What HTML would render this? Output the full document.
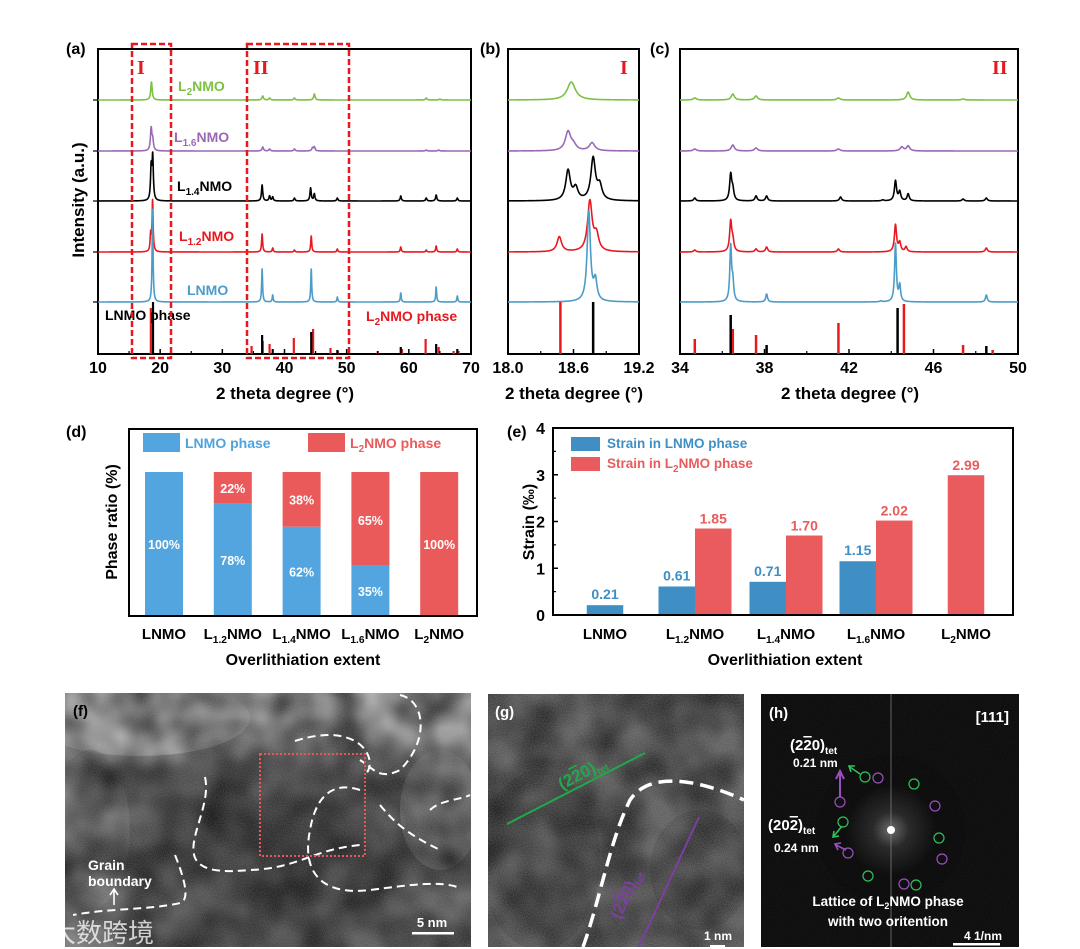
<!DOCTYPE html>
<html><head><meta charset="utf-8"><style>
html,body{margin:0;padding:0;background:#fff;}
svg{display:block;font-family:"Liberation Sans","Noto Sans CJK SC",sans-serif;}
.b{font-weight:bold;}
</style></head><body>
<svg id="fig" width="1080" height="949" viewBox="0 0 1080 949" xmlns="http://www.w3.org/2000/svg">
<defs>
<filter id="noise" x="0" y="0" width="100%" height="100%"><feTurbulence type="fractalNoise" baseFrequency="0.9" numOctaves="2" seed="3"/><feColorMatrix type="matrix" values="0 0 0 0 0.5  0 0 0 0 0.5  0 0 0 0 0.5  0 0 0 0.55 0"/></filter>
<filter id="blob" x="0" y="0" width="100%" height="100%"><feTurbulence type="fractalNoise" baseFrequency="0.025" numOctaves="2" seed="7"/><feColorMatrix type="matrix" values="0 0 0 0 0  0 0 0 0 0  0 0 0 0 0  1.4 0 0 0 -0.35"/></filter>
<radialGradient id="fg" cx="0.55" cy="0.6" r="0.6"><stop offset="0" stop-color="#333"/><stop offset="0.6" stop-color="#4e4e4e"/><stop offset="1" stop-color="#7a7a7a"/></radialGradient>
<linearGradient id="ftop" x1="0" y1="0" x2="0" y2="1"><stop offset="0" stop-color="#b5b5b5"/><stop offset="1" stop-color="#b5b5b5" stop-opacity="0"/></linearGradient>
<radialGradient id="hg" cx="0.5" cy="0.5" r="0.3"><stop offset="0" stop-color="#666"/><stop offset="0.4" stop-color="#222"/><stop offset="1" stop-color="#050505"/></radialGradient>
<clipPath id="cf"><rect x="65" y="693" width="406" height="254"/></clipPath>
<clipPath id="cg"><rect x="488" y="694" width="256" height="253"/></clipPath>
<clipPath id="chh"><rect x="761" y="694" width="258" height="253"/></clipPath>
</defs>

<text x="66" y="54" class="b" font-size="16">(a)</text>
<text x="480" y="54" class="b" font-size="16">(b)</text>
<text x="650" y="54" class="b" font-size="16">(c)</text>
<text x="66" y="437" class="b" font-size="16">(d)</text>
<text x="507" y="437" class="b" font-size="16">(e)</text>

<g id="ga"></g>
<g id="gb"></g>
<g id="gc"></g>
<g id="gd"></g>
<g id="ge"></g>

<text x="285" y="399" text-anchor="middle" class="b" font-size="17">2 theta degree (°)</text>
<text transform="translate(84,200) rotate(-90)" text-anchor="middle" class="b" font-size="17">Intensity (a.u.)</text>
<text x="178" y="91" class="b" font-size="14" fill="#7cc142">L<tspan font-size="10" dy="4">2</tspan><tspan dy="-4">NMO</tspan></text>
<text x="174" y="142" class="b" font-size="14" fill="#9a69b3">L<tspan font-size="10" dy="4">1.6</tspan><tspan dy="-4">NMO</tspan></text>
<text x="177" y="191" class="b" font-size="14" fill="#000">L<tspan font-size="10" dy="4">1.4</tspan><tspan dy="-4">NMO</tspan></text>
<text x="179" y="241" class="b" font-size="14" fill="#e8191e">L<tspan font-size="10" dy="4">1.2</tspan><tspan dy="-4">NMO</tspan></text>
<text x="187" y="295" class="b" font-size="14" fill="#4b9cc8">LNMO</text>
<text x="105" y="320" class="b" font-size="14" fill="#000">LNMO phase</text>
<text x="366" y="321" class="b" font-size="14" fill="#e8191e">L<tspan font-size="10" dy="4">2</tspan><tspan dy="-4">NMO phase</tspan></text>
<rect x="132" y="44" width="39" height="314" fill="none" stroke="#e8191e" stroke-width="2.5" stroke-dasharray="6,3"/>
<rect x="247" y="44" width="102" height="314" fill="none" stroke="#e8191e" stroke-width="2.5" stroke-dasharray="6,3"/>
<text x="137" y="74" font-family="Liberation Serif,serif" class="b" font-size="20" fill="#e8191e">I</text>
<text x="253" y="74" font-family="Liberation Serif,serif" class="b" font-size="20" fill="#e8191e">II</text>
<text x="574" y="399" text-anchor="middle" class="b" font-size="17">2 theta degree (°)</text>
<text x="620" y="74" font-family="Liberation Serif,serif" class="b" font-size="20" fill="#e8191e">I</text>
<text x="850" y="399" text-anchor="middle" class="b" font-size="17">2 theta degree (°)</text>
<text x="992" y="74" font-family="Liberation Serif,serif" class="b" font-size="20" fill="#e8191e">II</text>

<text x="303" y="665" text-anchor="middle" class="b" font-size="16">Overlithiation extent</text>
<text transform="translate(117,522) rotate(-90)" text-anchor="middle" class="b" font-size="16">Phase ratio (%)</text>
<rect x="143" y="433" width="37" height="19" fill="#52a5de"/>
<text x="185" y="448" class="b" font-size="14" fill="#4ea3dc">LNMO phase</text>
<rect x="308" y="433" width="37" height="19" fill="#eb5a5b"/>
<text x="350" y="448" class="b" font-size="14" fill="#eb5a5b">L<tspan font-size="10" dy="4">2</tspan><tspan dy="-4">NMO phase</tspan></text>

<text x="785" y="665" text-anchor="middle" class="b" font-size="16">Overlithiation extent</text>
<text transform="translate(534,522) rotate(-90)" text-anchor="middle" class="b" font-size="16">Strain (‰)</text>
<rect x="571" y="437" width="29" height="14" fill="#3f8fc4"/>
<text x="607" y="448" class="b" font-size="13.5" fill="#3f8fc4">Strain in LNMO phase</text>
<rect x="571" y="457" width="29" height="14" fill="#e95b5c"/>
<text x="607" y="468" class="b" font-size="13.5" fill="#e95b5c">Strain in L<tspan font-size="10" dy="4">2</tspan><tspan dy="-4">NMO phase</tspan></text>

<g clip-path="url(#cf)">
<rect x="65" y="693" width="406" height="254" fill="url(#fg)"/>
<rect x="65" y="693" width="406" height="90" fill="url(#ftop)"/>
<ellipse cx="140" cy="718" rx="110" ry="38" fill="#c0c0c0" opacity="0.6"/>
<ellipse cx="440" cy="810" rx="40" ry="60" fill="#999" opacity="0.5"/>
<ellipse cx="90" cy="830" rx="40" ry="80" fill="#777" opacity="0.5"/>
<rect x="65" y="693" width="406" height="254" filter="url(#blob)"/>
<rect x="65" y="693" width="406" height="254" filter="url(#noise)" opacity="0.6"/>
<path d="M205,777 C215,820 150,880 250,870 C300,868 310,850 360,845" fill="none" stroke="#fff" stroke-width="2" stroke-dasharray="8,5"/>
<path d="M295,741 C360,720 380,760 365,775 M400,695 C425,700 430,740 400,770 C380,780 375,770 360,760" fill="none" stroke="#fff" stroke-width="2" stroke-dasharray="8,5"/>
<path d="M360,790 C330,780 315,800 310,830 C300,880 330,895 370,890 C410,885 440,880 460,888 M380,805 C400,830 420,840 440,850 M430,810 C440,800 460,800 470,795" fill="none" stroke="#fff" stroke-width="2" stroke-dasharray="8,5"/>
<path d="M175,855 C185,880 190,900 180,903 C150,910 110,908 73,915" fill="none" stroke="#fff" stroke-width="2" stroke-dasharray="8,5"/>
<rect x="260" y="754" width="105" height="102" fill="none" stroke="#e05a5a" stroke-width="2" stroke-dasharray="2,2"/>
</g>
<text x="73" y="716" class="b" font-size="15" fill="#000">(f)</text>
<text x="88" y="870" class="b" font-size="14" fill="#fff">Grain</text>
<text x="88" y="886" class="b" font-size="14" fill="#fff">boundary</text>
<path d="M114,905 L114,890 M110,895 L114,889 L118,895" stroke="#fff" stroke-width="1.6" fill="none"/>
<text x="432" y="927" text-anchor="middle" class="b" font-size="13" fill="#fff">5 nm</text>
<rect x="412" y="932" width="42" height="2.5" fill="#fff"/>
<text x="50" y="942" font-size="26" fill="#fff" opacity="0.75">大数跨境</text>

<g clip-path="url(#cg)">
<rect x="488" y="694" width="256" height="253" fill="#565656"/>
<ellipse cx="540" cy="860" rx="60" ry="90" fill="#444" opacity="0.7"/>
<ellipse cx="700" cy="870" rx="50" ry="60" fill="#424242" opacity="0.6"/>
<rect x="488" y="694" width="256" height="253" filter="url(#blob)"/>
<rect x="488" y="694" width="256" height="253" filter="url(#noise)" opacity="0.7"/>
<path d="M583,947 C600,900 610,840 630,800 C650,770 700,780 744,800" fill="none" stroke="#fff" stroke-width="3.5" stroke-dasharray="14,7"/>
<line x1="507" y1="824" x2="645" y2="753" stroke="#21a84a" stroke-width="2"/>
<line x1="699" y1="817" x2="636" y2="953" stroke="#7b3fa0" stroke-width="2"/>
</g>
<text x="495" y="717" class="b" font-size="15" fill="#fff">(g)</text>
<text transform="translate(562,790) rotate(-28)" class="b" font-size="17" fill="#21a84a">(2<tspan text-decoration="overline">2</tspan>0)<tspan font-size="10" dy="4">tet</tspan></text>
<text transform="translate(620,920) rotate(-65)" class="b" font-size="17" fill="#7b3fa0">(2<tspan text-decoration="overline">2</tspan>0)<tspan font-size="10" dy="4">tet</tspan></text>
<text x="718" y="940" text-anchor="middle" class="b" font-size="12" fill="#fff">1 nm</text>
<rect x="710" y="945" width="15" height="2.5" fill="#fff"/>

<g clip-path="url(#chh)">
<rect x="761" y="694" width="258" height="253" fill="#070707"/>
<circle cx="891" cy="830" r="75" fill="url(#hg)"/>
<rect x="761" y="694" width="258" height="253" filter="url(#noise)" opacity="0.2"/>
<line x1="891" y1="694" x2="891" y2="947" stroke="#888" stroke-width="1" opacity="0.7"/>
<circle cx="891" cy="830" r="4" fill="#fff"/>
<g fill="none" stroke-width="1.2">
<circle cx="865" cy="777" r="5" stroke="#2ec25a"/><circle cx="878" cy="778" r="5" stroke="#9b4fc0"/>
<circle cx="914" cy="784" r="5" stroke="#2ec25a"/><circle cx="840" cy="802" r="5" stroke="#9b4fc0"/>
<circle cx="935" cy="806" r="5" stroke="#9b4fc0"/><circle cx="843" cy="822" r="5" stroke="#2ec25a"/>
<circle cx="939" cy="838" r="5" stroke="#2ec25a"/><circle cx="848" cy="853" r="5" stroke="#9b4fc0"/>
<circle cx="942" cy="859" r="5" stroke="#9b4fc0"/><circle cx="868" cy="876" r="5" stroke="#2ec25a"/>
<circle cx="904" cy="884" r="5" stroke="#9b4fc0"/><circle cx="916" cy="885" r="5" stroke="#2ec25a"/>
</g>
<path d="M840,797 L840,773 M836,779 L840,771 L844,779" stroke="#9b4fc0" stroke-width="2" fill="none"/>
<path d="M860,774 L850,767 M851,772 L849,766 L855,766" stroke="#2ec25a" stroke-width="1.6" fill="none"/>
<path d="M842,826 L834,836 M834,831 L833,837 L839,836" stroke="#2ec25a" stroke-width="1.6" fill="none"/>
<path d="M846,850 L836,845 M838,850 L835,844 L841,843" stroke="#9b4fc0" stroke-width="1.6" fill="none"/>
</g>
<text x="769" y="718" class="b" font-size="15" fill="#fff">(h)</text>
<text x="1009" y="722" text-anchor="end" class="b" font-size="15" fill="#fff">[111]</text>
<text x="790" y="750" class="b" font-size="15" fill="#fff">(2<tspan text-decoration="overline">2</tspan>0)<tspan font-size="10" dy="4">tet</tspan></text>
<text x="793" y="767" class="b" font-size="12" fill="#fff">0.21 nm</text>
<text x="768" y="830" class="b" font-size="15" fill="#fff">(20<tspan text-decoration="overline">2</tspan>)<tspan font-size="10" dy="4">tet</tspan></text>
<text x="774" y="852" class="b" font-size="12" fill="#fff">0.24 nm</text>
<text x="888" y="906" text-anchor="middle" class="b" font-size="13.5" fill="#fff">Lattice of L<tspan font-size="9" dy="3">2</tspan><tspan dy="-3">NMO phase</tspan></text>
<text x="888" y="926" text-anchor="middle" class="b" font-size="13.5" fill="#fff">with two oritention</text>
<text x="983" y="940" text-anchor="middle" class="b" font-size="12" fill="#fff">4 1/nm</text>
<rect x="953" y="943" width="47" height="2.5" fill="#fff"/>
</svg>
<script>
const sampleNames = ["L2NMO","L1.6NMO","L1.4NMO","L1.2NMO","LNMO"];
const sampleColors = ["#7cc142","#9a69b3","#000000","#e8191e","#4b9cc8"];
const baselines = [100,151,201,252,302];
const aPeaksL2 = [[18.6,18],[36.5,4],[37.6,2],[41.6,2],[44.8,6],[62.8,2],[65,1]];
const aPeaksL16 = [[18.55,22],[18.8,10],[36.5,4],[37.6,2],[41.6,2],[44.5,3],[44.8,4],[62.8,1],[64.8,1]];
const aPeaksL14 = [[18.55,32],[18.8,43],[36.4,16],[37.6,5],[38.1,4],[41.6,3],[44.2,13],[44.8,7],[48.5,3],[58.7,5],[62.8,3],[64.4,6],[67.8,3]];
const aPeaksL12 = [[18.47,17],[18.78,51],[36.4,18],[38.1,4],[41.6,2],[44.3,16],[48.5,3],[58.7,5],[62.8,2],[64.4,6],[67.8,3]];
const aPeaksLNMO = [[18.78,93],[36.4,33],[38.1,7],[44.3,33],[48.5,5],[58.7,9],[64.4,15],[67.8,6]];
const aSticksLNMO = [[18.85,52],[36.4,19],[38.1,5],[44.3,22],[48.5,4],[58.7,7],[64.4,10],[67.8,5]];
const aSticksL2NMO = [[18.5,46],[34.7,8],[36.5,13],[37.6,10],[41.5,16],[44.6,25],[47.4,6],[48.6,3],[55,3],[58.9,5],[62.7,15],[64.8,7],[67.2,3],[68,3]];

const bPeaksL2 = [[18.58,18]];
const bPeaksL16 = [[18.55,19],[18.6,5],[18.77,8]];
const bPeaksL14 = [[18.55,30],[18.62,12],[18.78,42],[18.84,14]];
const bPeaksL12 = [[18.47,15],[18.75,50],[18.81,16]];
const bPeaksLNMO = [[18.74,90],[18.8,20]];
const bWidths = [0.045,0.03,0.025,0.025,0.018];
const bSticksLNMO = [[18.78,52]];
const bSticksL2NMO = [[18.48,52]];

const cPeaksL2 = [[34.7,2],[36.5,6],[37.6,4],[41.5,2],[44.8,8],[47.4,1]];
const cPeaksL16 = [[34.7,2],[36.5,6],[37.6,3],[41.5,2],[44.5,4],[44.8,5]];
const cPeaksL14 = [[34.7,3],[36.4,26],[36.5,10],[37.6,5],[38.1,5],[41.6,4],[43.6,1],[44.2,20],[44.4,9],[44.8,7],[47.4,2],[48.5,3]];
const cPeaksL12 = [[34.7,2],[36.4,30],[36.5,10],[37.6,3],[38.1,5],[41.5,3],[44.2,27],[44.4,9],[44.7,5],[48.5,4]];
const cPeaksLNMO = [[36.4,55],[36.5,18],[38.1,8],[43.5,1],[44.2,58],[44.4,16],[48.5,7]];
const cSticksLNMO = [[36.4,39],[38.1,9],[44.3,46],[48.5,8]];
const cSticksL2NMO = [[34.7,15],[36.5,25],[37.6,19],[41.5,31],[44.6,50],[47.4,9],[48.8,4]];

const categories = ["LNMO","L1.2NMO","L1.4NMO","L1.6NMO","L2NMO"];
const phaseLNMO = [100,78,62,35,0];
const phaseL2NMO = [0,22,38,65,100];
const strainLNMO = [0.21,0.61,0.71,1.15,null];
const strainL2NMO = [null,1.85,1.70,2.02,2.99];
const strainTicks = [0,1,2,3,4];

const NS="http://www.w3.org/2000/svg";
function mk(parent,tag,attrs,txt){const e=document.createElementNS(NS,tag);for(const k in attrs)e.setAttribute(k,attrs[k]);if(txt!==undefined)e.textContent=txt;parent.appendChild(e);return e;}
function catLabel(parent,x,y,name,size){
  const t=mk(parent,"text",{x:x,y:y,"text-anchor":"middle","font-weight":"bold","font-size":size});
  const m=name.match(/^L([\d.]+)NMO$/);
  if(m){mk(t,"tspan",{},"L");mk(t,"tspan",{"font-size":size*0.68,dy:4},m[1]);mk(t,"tspan",{dy:-4},"NMO");}
  else t.textContent=name;
  return t;
}

function xrdPanel(g,x0,x1,d0,d1,top,bottom,peakSets,widths,sticksB,sticksR,step,ticks,minor,tickFmt,stickW){
  const sx=v=>x0+(v-d0)/(d1-d0)*(x1-x0);
  mk(g,"rect",{x:x0,y:top,width:x1-x0,height:bottom-top,fill:"none",stroke:"#000","stroke-width":2});
  peakSets.forEach((pk,i)=>{
    let d="";
    for(let v=d0;v<=d1+1e-9;v+=step){
      let s=0;pk.forEach(p=>{const u=(v-p[0])/widths[i];s+=p[1]/(1+u*u);});
      d+=(d?"L":"M")+sx(v).toFixed(2)+","+(baselines[i]-s).toFixed(2);
    }
    const p=mk(g,"path",{d:d,fill:"none",stroke:sampleColors[i],"stroke-width":1.6,"stroke-linejoin":"round"});
    
    
  });
  sticksR.forEach(s=>{const l=mk(g,"line",{x1:sx(s[0]),x2:sx(s[0]),y1:bottom,y2:bottom-s[1],stroke:"#e8191e","stroke-width":stickW});
    
    });
  sticksB.forEach(s=>{const l=mk(g,"line",{x1:sx(s[0]),x2:sx(s[0]),y1:bottom,y2:bottom-s[1],stroke:"#000","stroke-width":stickW});
    
    });
  ticks.forEach(v=>{mk(g,"line",{x1:sx(v),x2:sx(v),y1:bottom,y2:bottom-5,stroke:"#000","stroke-width":1.5});
    const t=mk(g,"text",{x:sx(v),y:bottom+19,"text-anchor":"middle","font-weight":"bold","font-size":16},tickFmt(v));
    
    });
  minor.forEach(v=>mk(g,"line",{x1:sx(v),x2:sx(v),y1:bottom,y2:bottom-3,stroke:"#000","stroke-width":1.2}));
}
xrdPanel(document.getElementById("ga"),98,471,10,70,49,354,[aPeaksL2,aPeaksL16,aPeaksL14,aPeaksL12,aPeaksLNMO],[0.14,0.14,0.12,0.1,0.09],aSticksLNMO,aSticksL2NMO,0.025,[10,20,30,40,50,60,70],[15,25,35,45,55,65],v=>String(v),2.2);
(function(){const g=document.getElementById("ga");baselines.forEach(y=>mk(g,"line",{x1:98,x2:93,y1:y,y2:y,stroke:"#000","stroke-width":1.2}));})();
xrdPanel(document.getElementById("gb"),508,639,18.0,19.2,49,354,[bPeaksL2,bPeaksL16,bPeaksL14,bPeaksL12,bPeaksLNMO],bWidths,bSticksLNMO,bSticksL2NMO,0.003,[18.0,18.6,19.2],[18.3,18.9],v=>v.toFixed(1),2.5);
xrdPanel(document.getElementById("gc"),680,1018,34,50,49,354,[cPeaksL2,cPeaksL16,cPeaksL14,cPeaksL12,cPeaksLNMO],[0.09,0.09,0.06,0.06,0.05],cSticksLNMO,cSticksL2NMO,0.01,[34,38,42,46,50],[36,40,44,48],v=>String(v),2.5);

(function(){
  const g=document.getElementById("gd");
  const L=129,R=477,T=429,B=616,top100=472,bw=38;
  const cx=i=>164+i*68.8;
  const sy=v=>B-v/100*(B-top100);
  categories.forEach((c,i)=>{
    const x=cx(i)-bw/2;
    if(phaseLNMO[i]>0){const r=mk(g,"rect",{x:x,y:sy(phaseLNMO[i]),width:bw,height:B-sy(phaseLNMO[i]),fill:"#52a5de"});
      
      
      mk(g,"text",{x:cx(i),y:(sy(phaseLNMO[i])+B)/2+5,"text-anchor":"middle","font-weight":"bold","font-size":12.5,fill:"#fff"},phaseLNMO[i]+"%");}
    if(phaseL2NMO[i]>0){const y0=sy(phaseLNMO[i]+phaseL2NMO[i]),y1=sy(phaseLNMO[i]);
      const r=mk(g,"rect",{x:x,y:y0,width:bw,height:y1-y0,fill:"#eb5a5b"});
      
      
      const off=(phaseL2NMO[i]>50&&phaseL2NMO[i]<100)?-41:5;
      mk(g,"text",{x:cx(i),y:(phaseL2NMO[i]>50&&phaseL2NMO[i]<100)?y0+53:(y0+y1)/2+5,"text-anchor":"middle","font-weight":"bold","font-size":12.5,fill:"#fff"},phaseL2NMO[i]+"%");}
    const t=catLabel(g,cx(i),639,c,15);
    
    
  });
  mk(g,"rect",{x:L,y:T,width:R-L,height:B-T,fill:"none",stroke:"#000","stroke-width":2});
})();

(function(){
  const g=document.getElementById("ge");
  const L=553,R=1013,T=428,B=615,bw=36.5;
  const sy=v=>B-v/4*(B-T);
  const gc=[605,695,786,876,966];
  strainTicks.forEach(v=>{mk(g,"line",{x1:L,x2:L+5,y1:sy(v),y2:sy(v),stroke:"#000","stroke-width":1.5});
    mk(g,"text",{x:L-8,y:sy(v)+6,"text-anchor":"end","font-weight":"bold","font-size":16},String(v));
    if(v<4)mk(g,"line",{x1:L,x2:L+3,y1:sy(v+0.5),y2:sy(v+0.5),stroke:"#000","stroke-width":1.2});});
  categories.forEach((c,i)=>{
    const both=strainLNMO[i]!=null&&strainL2NMO[i]!=null;
    if(strainLNMO[i]!=null){const x=both?gc[i]-bw:gc[i]-bw/2;
      const r=mk(g,"rect",{x:x,y:sy(strainLNMO[i]),width:bw,height:B-sy(strainLNMO[i]),fill:"#3f8fc4"});
      
      
      mk(g,"text",{x:x+bw/2,y:sy(strainLNMO[i])-6,"text-anchor":"middle","font-weight":"bold","font-size":14,fill:"#3f8fc4"},strainLNMO[i].toFixed(2));}
    if(strainL2NMO[i]!=null){const x=both?gc[i]:gc[i]-bw/2;
      const r=mk(g,"rect",{x:x,y:sy(strainL2NMO[i]),width:bw,height:B-sy(strainL2NMO[i]),fill:"#e95b5c"});
      
      
      mk(g,"text",{x:x+bw/2,y:sy(strainL2NMO[i])-5,"text-anchor":"middle","font-weight":"bold","font-size":14,fill:"#e95b5c"},strainL2NMO[i].toFixed(2));}
    const t=catLabel(g,gc[i],639,c,15);
    
    
  });
  mk(g,"rect",{x:L,y:T,width:R-L,height:B-T,fill:"none",stroke:"#000","stroke-width":2});
})();
</script>
</body></html>
